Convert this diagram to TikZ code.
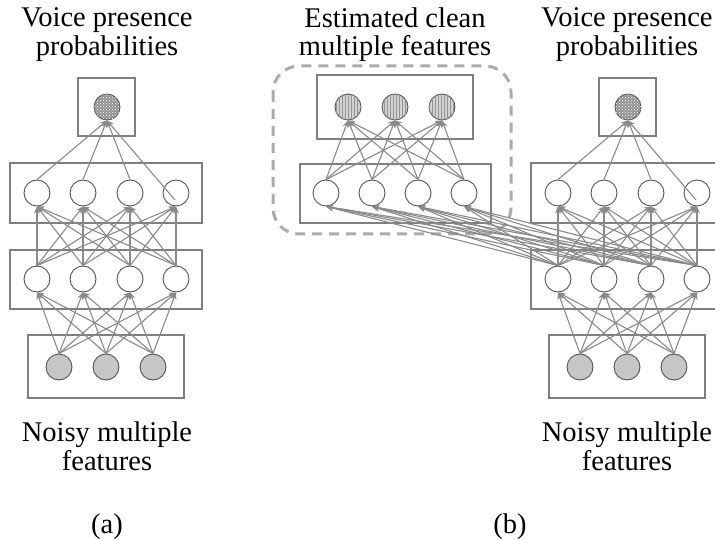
\documentclass[tikz,border=0pt]{standalone}
\usepackage{fontspec}
\setmainfont{Liberation Serif}
\usetikzlibrary{arrows.meta,patterns,calc}

\definecolor{boxgray}{HTML}{7F7F7F}
\definecolor{linkgray}{HTML}{8A8A8A}
\definecolor{unitline}{HTML}{555555}
\definecolor{dashgray}{HTML}{ABABAB}

\begin{document}
\begin{tikzpicture}[
    x=1pt, y=-1pt,
    >={Stealth[length=7pt,width=6pt]},
    every node/.style={font=\fontsize{28.5}{28.5}\selectfont},
    txt/.style={align=center},
    layerbox/.style={draw=boxgray, line width=2.6pt},
    groupline/.style={draw=dashgray, line width=3pt, dash pattern=on 10pt off 7pt, rounded corners=26pt},
    neuron/.style={circle, draw=unitline, line width=0.9pt, minimum size=26pt, inner sep=0pt, fill=white},
    inunit/.style={neuron, fill=gray!45},
    outunit/.style={neuron, fill=gray!85, postaction={pattern=crosshatch dots, pattern color=white}},
    estunit/.style={neuron, fill=gray!35, postaction={pattern=vertical lines, pattern color=gray!85}},
    link/.style={->, draw=linkgray, line width=1.1pt}
]
\useasboundingbox (0,0) rectangle (715,540);

% dashed group round the estimator
\draw[groupline] (273,66) rectangle (511,234);

% layer boxes
\draw[layerbox] (78,78) rectangle (135,136);
\draw[layerbox] (10,163) rectangle (202,223);
\draw[layerbox] (10,250) rectangle (202,309);
\draw[layerbox] (28,335) rectangle (184,398);
\draw[layerbox] (317,75) rectangle (473,139);
\draw[layerbox] (300,164) rectangle (491,223);
\draw[layerbox] (599,78) rectangle (656,136);
\draw[layerbox] (531,163) rectangle (723,223);
\draw[layerbox] (531,250) rectangle (723,309);
\draw[layerbox] (549,335) rectangle (705,398);

% (a) network
\node[outunit] (aout) at (107,107) {};
\foreach \x [count=\i] in {37,83,130,176} {
  \node[neuron] (ah2\i) at (\x,193) {};
  \node[neuron] (ah1\i) at (\x,279) {};
}
\foreach \x [count=\i] in {59,106,153}
  \node[inunit] (ain\i) at (\x,367) {};
\coordinate (atail) at ($(ah24)+(-1,7)$);

% (b) estimator
\foreach \x [count=\i] in {348,395,442}
  \node[estunit] (eo\i) at (\x,107) {};
\foreach \x [count=\i] in {326,372,418,464}
  \node[neuron] (eh\i) at (\x,193) {};

% (b) network
\node[outunit] (bout) at (628,107) {};
\foreach \x [count=\i] in {558,604,651,697} {
  \node[neuron] (bh2\i) at (\x,193) {};
  \node[neuron] (bh1\i) at (\x,279) {};
}
\foreach \x [count=\i] in {580,627,674}
  \node[inunit] (bin\i) at (\x,367) {};
\coordinate (btail) at ($(bh24)+(-1,7)$);

% connections
\foreach \i in {1,2,3} \foreach \j in {1,...,4} {
  \draw[link] (ain\i.north) -- (ah1\j.south);
  \draw[link] (bin\i.north) -- (bh1\j.south);
}
\foreach \i in {1,...,4} \foreach \j in {1,...,4} {
  \draw[link] (ah1\i.north) -- (ah2\j.south);
  \draw[link] (bh1\i.north) -- (bh2\j.south);
  \draw[link] (bh1\i.north) -- (eh\j.south);
}
\foreach \i in {1,...,4} \foreach \j in {1,2,3}
  \draw[link] (eh\i.north) -- (eo\j.south);
\foreach \i in {1,2,3} {
  \draw[link] (ah2\i.north) -- (aout.south);
  \draw[link] (bh2\i.north) -- (bout.south);
}
\draw[link] (atail) -- (aout.south);
\draw[link] (btail) -- (bout.south);

% labels
\node[txt] (atop) at (107,34.5) {Voice presence\\probabilities};
\node[txt] (abot) at (107,446.5) {Noisy multiple\\features};
\node[anchor=base] (acap) at (107,533) {(a)};
\node[txt] (etop) at (395,34.5) {Estimated clean\\multiple features};
\node[txt] (btop) at (627,34.5) {Voice presence\\probabilities};
\node[txt] (bbot) at (627,446.5) {Noisy multiple\\features};
\node[anchor=base] (bcap) at (510,533) {(b)};

\end{tikzpicture}
\end{document}
